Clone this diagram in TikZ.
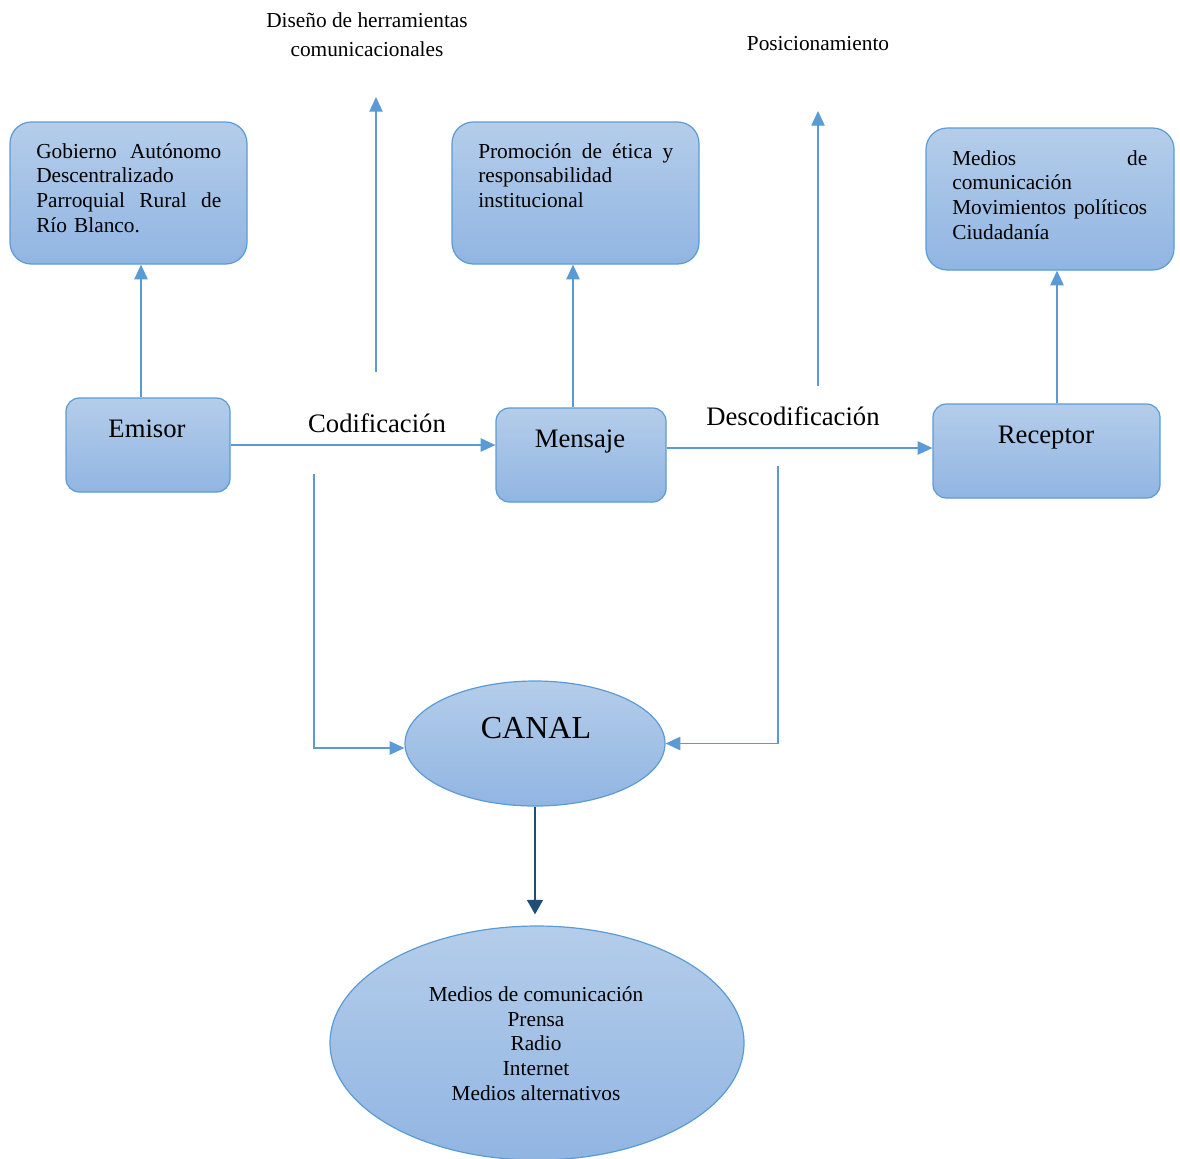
\documentclass[tikz,border=0pt]{standalone}
\usepackage{fontspec}
\setmainfont{Liberation Serif}
\usetikzlibrary{arrows.meta,calc,shapes.geometric}
\definecolor{edge}{RGB}{91,155,213}
\definecolor{filltop}{RGB}{180,205,234}
\definecolor{fillbot}{RGB}{145,181,226}
\definecolor{navy}{RGB}{31,78,121}
\tikzset{
  card/.style={draw=edge, line width=0.9pt, top color=filltop, bottom color=fillbot, inner sep=0pt},
  bodytext/.style={inner sep=0pt, font=\fontsize{16}{18.5}\selectfont},
  midtext/.style={inner sep=0pt, font=\fontsize{20}{24}\selectfont},
  bigtext/.style={inner sep=0pt, font=\fontsize{24}{28}\selectfont},
  arr/.style={draw=edge, line width=1pt, -{Triangle[length=11pt,width=10pt]}},
  navyarr/.style={draw=navy, line width=1.6pt, -{Triangle[length=11pt,width=12pt]}}
}
\begin{document}
\begin{tikzpicture}[x=0.75pt,y=-0.75pt]
\useasboundingbox (0,0) rectangle (1180,1158);

% upper boxes
\node[card, rounded corners=16pt, minimum width=177.75pt, minimum height=106.5pt] (gad) at (128.5,193) {};
\node[bodytext, text width=138.75pt, align=left, anchor=base west] (gadtxt) at (36,158)
  {Gobierno\hfill Autónomo\\Descentralizado\\Parroquial\hfill Rural\hfill de\\Río Blanco.};

\node[card, rounded corners=16pt, minimum width=185.25pt, minimum height=106.5pt] (promo) at (575.5,193) {};
\node[bodytext, text width=146.25pt, align=left, anchor=base west] (promotxt) at (478,158)
  {Promoción\hfill de\hfill ética\hfill y\\responsabilidad\\institucional};

\node[card, rounded corners=16pt, minimum width=186pt, minimum height=106.5pt] (actores) at (1050,199) {};
\node[bodytext, text width=146.25pt, align=left, anchor=base west] (actorestxt) at (952,165)
  {Medios\hfill de\\comunicación\\Movimientos\hfill políticos\\Ciudadanía};

% main chain
\node[card, rounded corners=10pt, minimum width=123pt, minimum height=70.5pt] (emisor) at (148,445) {};
\node[midtext, anchor=base] (emisortxt) at (147,437) {Emisor};

\node[card, rounded corners=10pt, minimum width=127.5pt, minimum height=70.5pt] (mensaje) at (581,455) {};
\node[midtext, anchor=base] (mensajetxt) at (580,447) {Mensaje};

\node[card, rounded corners=10pt, minimum width=170.25pt, minimum height=70.5pt] (receptor) at (1046.5,451) {};
\node[midtext, anchor=base] (receptortxt) at (1046,443) {Receptor};

\node[midtext, anchor=base] (codif) at (377,432) {Codificación};
\node[midtext, anchor=base] (descod) at (793,425) {Descodificación};

% channel and media
\node[card, ellipse, minimum width=195pt, minimum height=93.75pt] (canal) at (535,743.5) {};
\node[bigtext, anchor=base] (canaltxt) at (536,738) {CANAL};

\node[card, ellipse, minimum width=310.5pt, minimum height=175.5pt] (medios) at (537,1043) {};
\node[bodytext, align=center, anchor=base] (mediostxt) at (536,1100)
  {Medios de comunicación\\Prensa\\Radio\\Internet\\Medios alternativos};

% free labels above (base anchor sits on the last line)
\node[bodytext, font=\fontsize{16}{21.75}\selectfont, align=center, anchor=base] (diseno) at (367,56)
  {Diseño de herramientas\\comunicacionales};
\node[bodytext, anchor=base] (posic) at (818,50) {Posicionamiento};

% connectors
\coordinate (e1) at ($(emisor.north)+(-7,0)$);
\draw[arr] (e1) -- (e1 |- gad.south);
\coordinate (m1) at ($(mensaje.north)+(-8,0)$);
\draw[arr] (m1) -- (m1 |- promo.south);
\coordinate (r1) at ($(receptor.north)+(10.5,0)$);
\draw[arr] (r1) -- (r1 |- actores.south);

\draw[arr] (emisor.east) -- (emisor.east -| mensaje.west);
\coordinate (m2) at ($(mensaje.east)+(0,-7)$);
\draw[arr] (m2) -- (m2 -| receptor.west);

\coordinate (d0) at (376,372);
\coordinate (d1) at (376,97);
\draw[arr] (d0) -- (d1);
\coordinate (p0) at (818,386);
\coordinate (p1) at (818,111);
\draw[arr] (p0) -- (p1);

\coordinate (cl) at (314,474);
\coordinate (clend) at ($(canal.west)+(0,4.5)$);
\draw[arr] (cl) |- (clend);
\coordinate (cr) at (778,466);
\draw[arr] (cr) |- (canal.east);

\coordinate (mtop) at ($(medios.north)+(0,-11)$);
\draw[navyarr] (canal.south) -- (canal.south |- mtop);
\end{tikzpicture}
\end{document}
